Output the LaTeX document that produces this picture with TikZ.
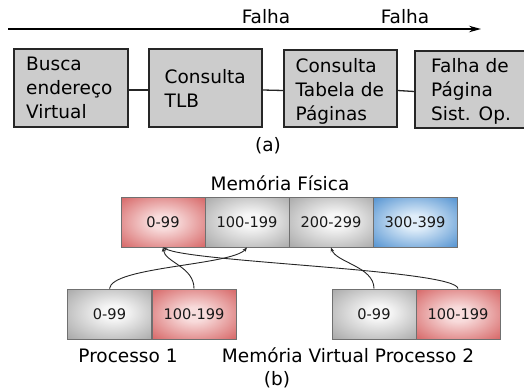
\documentclass[tikz,border=0pt]{standalone}
\usepackage{fontspec}
\setmainfont{DejaVu Sans}
\usetikzlibrary{arrows.meta}
\definecolor{boxfill}{HTML}{CCCCCC}
\definecolor{boxline}{HTML}{262626}
\definecolor{cellline}{HTML}{707070}
\definecolor{redin}{HTML}{F8DCDC}
\definecolor{redout}{HTML}{D86C6C}
\definecolor{grayin}{HTML}{F6F6F6}
\definecolor{grayout}{HTML}{ABABAB}
\definecolor{bluein}{HTML}{DFEDF9}
\definecolor{blueout}{HTML}{5A97D3}
\pgfdeclareradialshading{redsh}{\pgfpoint{0bp}{0bp}}{color(0bp)=(redin); color(7bp)=(redin); color(34bp)=(redout); color(50bp)=(redout)}
\pgfdeclareradialshading{graysh}{\pgfpoint{3bp}{2bp}}{color(0bp)=(grayin); color(7bp)=(grayin); color(35bp)=(grayout); color(50bp)=(grayout)}
\pgfdeclareradialshading{bluesh}{\pgfpoint{0bp}{0bp}}{color(0bp)=(bluein); color(7bp)=(bluein); color(34bp)=(blueout); color(50bp)=(blueout)}
\begin{document}
\begin{tikzpicture}[x=1pt,y=-1pt,
  abox/.style={draw=boxline, line width=1.6pt, fill=boxfill, inner sep=0pt},
  btxt/.style={font=\fontsize{18.5}{24}\selectfont, align=left, inner sep=0pt, anchor=west},
  lbl/.style={font=\fontsize{18.5}{24}\selectfont, inner sep=0pt, anchor=base},
  cell/.style={draw=cellline, line width=0.8pt, minimum width=84pt, minimum height=50pt, inner sep=0pt, text=black!90, font=\fontsize{14.6}{17}\selectfont},
  redcell/.style={cell, shading=redsh},
  graycell/.style={cell, shading=graysh},
  bluecell/.style={cell, shading=bluesh},
  conn/.style={line width=1.3pt, draw=boxline},
  toparrow/.style={line width=1.3pt, draw=black, -{Stealth[length=12pt,width=6.5pt]}},
  map/.style={line width=0.9pt, draw=black!85, -{Stealth[length=4.5pt,width=3.5pt]}}
]
\clip (0,0) rectangle (524,391);
\fill[white] (0,0) rectangle (524,391);

% (a)
\coordinate (as) at (8,29);
\coordinate (ae) at (481,29);
\draw[toparrow] (as) -- (ae);
\node[lbl] (f1) at (266,23) {Falha};
\node[lbl] (f2) at (405,23) {Falha};

\node[abox, minimum width=114pt, minimum height=78pt] (b1) at (71,88) {};
\node[abox, minimum width=113pt, minimum height=78pt] (b2) at (205.5,88) {};
\node[abox, minimum width=113pt, minimum height=77pt] (b3) at (340.5,88.5) {};
\node[abox, minimum width=115pt, minimum height=77pt] (b4) at (472.5,89.5) {};

\node[btxt] (t1) at (26,88) {Busca\\endereço\\Virtual};
\node[btxt] (t2) at (164.5,88) {Consulta\\TLB};
\node[btxt] (t3) at (295.5,91) {Consulta\\Tabela de\\Páginas};
\node[btxt] (t4) at (431,91) {Falha de\\Página\\Sist. Op.};

\draw[conn] ([yshift=-2pt]b1.east) -- ([yshift=-2pt]b2.west);
\draw[conn] ([yshift=-2pt]b2.east) -- ([yshift=-2pt]b3.west);
\draw[conn] ([yshift=-2pt]b3.east) -- ([yshift=-2pt]b4.west);

\node[lbl] (la) at (268,151) {(a)};

% (b)
\node[lbl] (mf) at (280,190) {Memória Física};
\node[redcell] (m0) at (163,222) {0-99};
\node[graycell] (m1) at (247,222) {100-199};
\node[graycell] (m2) at (331,222) {200-299};
\node[bluecell] (m3) at (415,222) {300-399};

\node[graycell] (p1a) at (109.5,314) {0-99};
\node[redcell] (p1b) at (194,314) {100-199};
\node[graycell] (p2a) at (374,314) {0-99};
\node[redcell] (p2b) at (458,314) {100-199};

\draw[map] (p1a.north) .. controls +(2,-22) and +(-15,18) .. (m1.south);
\draw[map] (p1b.north) .. controls +(0,-22) and +(2,15) .. (m0.south);
\draw[map] (p2a.north) .. controls +(0,-22) and +(5,15) .. (m2.south);
\draw[map] (p2b.north) .. controls +(-2,-19) and +(27,15) .. (m0.south);

\node[lbl] (lp1) at (128,362) {Processo 1};
\node[lbl] (lmv) at (348,362) {Memória Virtual Processo 2};
\node[lbl] (lb) at (277,385) {(b)};
\end{tikzpicture}
\end{document}
